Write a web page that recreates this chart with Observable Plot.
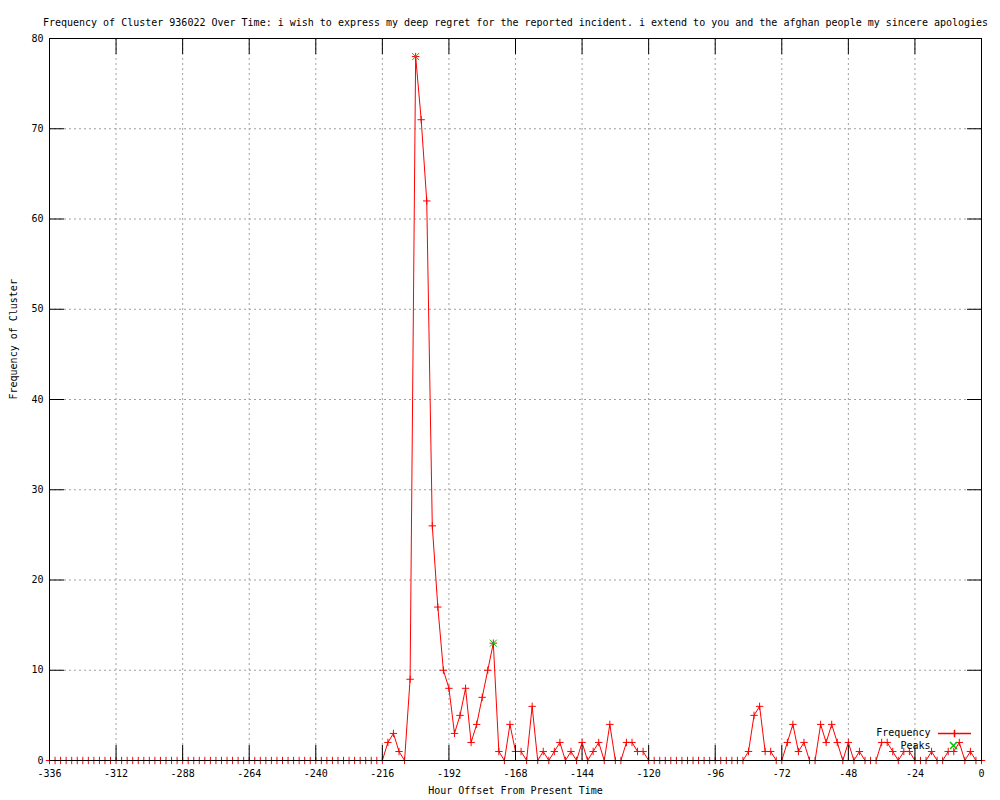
<!DOCTYPE html>
<html><head><meta charset="utf-8">
<script src="https://cdn.jsdelivr.net/npm/d3@7"></script>
<script src="https://cdn.jsdelivr.net/npm/@observablehq/plot@0.6"></script>
<style>body{margin:0;background:#fff}</style>
</head><body><div id="chart"></div>
<script>
const titleText = "Frequency of Cluster 936022 Over Time: i wish to express my deep regret for the reported incident. i extend to you and the afghan people my sincere apologies";
const xLabel = "Hour Offset From Present Time";
const yLabel = "Frequency of Cluster";
const legendLabels = ["Frequency", "Peaks"];

// hours -336 .. 0, every 2 hours
const hours = d3.range(-336, 1, 2);
const frequency = [
  // -336 .. -216
  0,0,0,0,0,0,0,0,0,0,0,0,0,0,0,0,0,0,0,0,0,0,0,0,0,0,0,0,0,0,0,0,0,0,0,0,0,0,0,0,0,0,0,0,0,0,0,0,0,0,0,0,0,0,0,0,0,0,0,0,0,
  // -214 .. -120
  2,3,1,0,9,78,71,62,26,17,10,8,3,5,8,2,4,7,10,13,1,0,4,1,1,0,6,0,1,0,1,2,0,1,0,2,0,1,2,0,4,0,0,2,2,1,1,0,
  // -118 .. -86
  0,0,0,0,0,0,0,0,0,0,0,0,0,0,0,0,0,
  // -84 .. 0
  1,5,6,1,1,0,0,2,4,1,2,0,0,4,2,4,2,0,2,0,1,0,0,0,2,2,1,0,1,1,0,0,0,1,0,0,1,1,2,0,1,0,0
];
const peakHours = [-204, -176];
const peakValues = [78, 13];
const xTicks = d3.range(-336, 1, 24);
const yTicks = d3.range(0, 81, 10);

const data = hours.map((h, i) => ({hour: h, freq: frequency[i]}));
const peaks = peakHours.map((h, i) => ({hour: h, freq: peakValues[i]}));

const plusSym = {draw(ctx, size) {const a = Math.sqrt(size / Math.PI); ctx.moveTo(-a, 0); ctx.lineTo(a, 0); ctx.moveTo(0, -a); ctx.lineTo(0, a);}};
const crossSym = {draw(ctx, size) {const a = Math.sqrt(size / Math.PI); ctx.moveTo(-a, -a); ctx.lineTo(a, a); ctx.moveTo(-a, a); ctx.lineTo(a, -a);}};
const lineSampleSym = {draw(ctx, size) {const a = Math.sqrt(size / Math.PI); ctx.moveTo(-16.5, 0); ctx.lineTo(16.5, 0); ctx.moveTo(0, -a); ctx.lineTo(0, a);}};

const red = "#ff0000", green = "#00c000", gridColor = "#a0a0a0";

const chart = Plot.plot({
  width: 1000, height: 800,
  marginLeft: 49, marginRight: 19, marginTop: 38, marginBottom: 40,
  style: {fontFamily: "'DejaVu Sans Mono', monospace", fontSize: "10px", background: "#fff", color: "#000"},
  x: {domain: [-336, 0]},
  y: {domain: [0, 80]},
  marks: [
    Plot.gridX(xTicks, {stroke: gridColor, strokeOpacity: 1, strokeDasharray: "2,3"}),
    Plot.gridY(yTicks, {stroke: gridColor, strokeOpacity: 1, strokeDasharray: "2,3"}),
    Plot.line(data, {x: "hour", y: "freq", stroke: red, strokeWidth: 1}),
    Plot.dot(data, {x: "hour", y: "freq", symbol: plusSym, r: 3.7, stroke: red, fill: "none", strokeWidth: 1}),
    Plot.dot(peaks, {x: "hour", y: "freq", symbol: crossSym, r: 3.5, stroke: green, fill: "none", strokeWidth: 1}),
    Plot.frame({stroke: "#000"}),
    // inward ticks
    Plot.axisX(xTicks, {anchor: "bottom", tickSize: 15, dy: -15, fill: "none", label: null}),
    Plot.axisX(xTicks, {anchor: "top", tickSize: 15, dy: 15, fill: "none", label: null}),
    Plot.axisY(yTicks, {anchor: "left", tickSize: 15, dx: 15, fill: "none", label: null}),
    Plot.axisY(yTicks, {anchor: "right", tickSize: 15, dx: -15, fill: "none", label: null}),
    // tick labels
    Plot.axisX(xTicks, {anchor: "bottom", tickSize: 0, tickPadding: 9, tickFormat: d => String(d), label: null}),
    Plot.axisY(yTicks, {anchor: "left", tickSize: 0, tickPadding: 6, tickFormat: d => String(d), label: null}),
    // titles
    Plot.text([titleText], {frameAnchor: "top", dy: -20}),
    Plot.text([xLabel], {frameAnchor: "bottom", dy: 33}),
    Plot.text([yLabel], {frameAnchor: "left", dx: -36, rotate: -90}),
    // legend
    Plot.text([legendLabels[0]], {frameAnchor: "bottom-right", dx: -51, dy: -25, textAnchor: "end"}),
    Plot.dot([legendLabels[0]], {frameAnchor: "bottom-right", dx: -27, dy: -27, symbol: lineSampleSym, r: 3.7, stroke: red, fill: "none"}),
    Plot.text([legendLabels[1]], {frameAnchor: "bottom-right", dx: -51, dy: -12, textAnchor: "end"}),
    Plot.dot([legendLabels[1]], {frameAnchor: "bottom-right", dx: -28, dy: -15, symbol: crossSym, r: 3.5, stroke: green, fill: "none"})
  ]
});
document.getElementById("chart").appendChild(chart);
</script>
</body></html>
